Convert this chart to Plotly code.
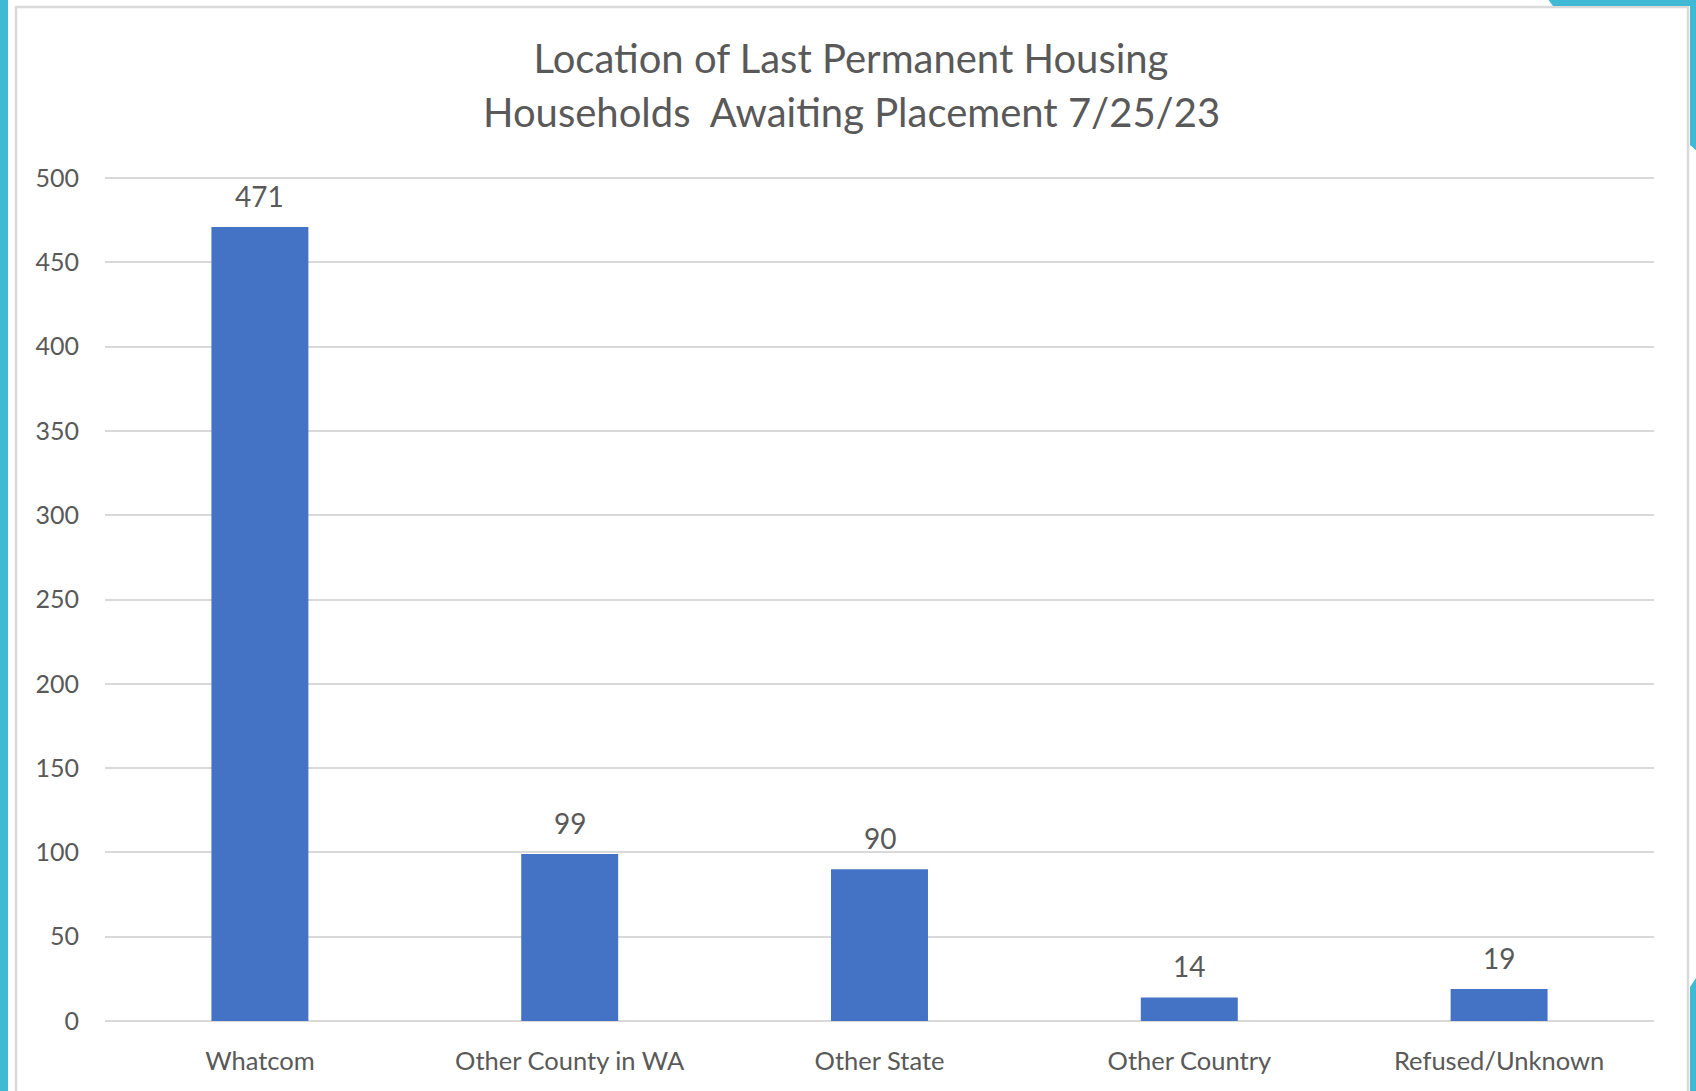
import plotly.graph_objects as go

# data
categories = ["Whatcom", "Other County in WA", "Other State", "Other Country", "Refused/Unknown"]
households = [471, 99, 90, 14, 19]
tick_vals = [0, 50, 100, 150, 200, 250, 300, 350, 400, 450, 500]

title_line1 = "Location of Last Permanent Housing"
title_line2 = "Households  Awaiting Placement 7/25/23"

W, H = 1696, 1091
ML, MR, MT, MB = 105, 42, 177, 70
PW, PH = W - ML - MR, H - MT - MB
Y_TOP = 500.6  # a hair above 500 so the top gridline is drawn

BAR = "#4472C4"
TXT = "#595959"
GRID = "#D9D9D9"
TEAL = "#40B9D4"
FONT = "Lato"


def px(x):
    # page pixel -> paper x
    return (x - ML) / PW


def py(y):
    # page pixel -> paper y
    return (H - MB - y) / PH


def path(points):
    return "M " + " L ".join(f"{px(a)},{py(b)}" for a, b in points) + " Z"


fig = go.Figure()
fig.add_trace(go.Bar(
    x=categories, y=households,
    marker=dict(color=BAR, line=dict(width=0)),
    hoverinfo="x+y",
))

# value labels above bars
for c, v in zip(categories, households):
    fig.add_annotation(
        x=c, y=v, text=str(v), showarrow=False,
        yanchor="bottom", yshift=12,
        font=dict(family=FONT, size=28, color=TXT),
    )

# second title line
fig.add_annotation(
    xref="paper", yref="paper", x=px(851), y=py(112),
    text=title_line2, showarrow=False, xanchor="center", yanchor="middle",
    font=dict(family=FONT, size=40, color=TXT),
)

shapes = [
    # chart area border
    dict(type="rect", xref="paper", yref="paper",
         x0=px(16), x1=px(1688), y0=py(1110), y1=py(7),
         line=dict(color=GRID, width=2.5), layer="below"),
    # teal slide decorations
    dict(type="rect", xref="paper", yref="paper",
         x0=px(-2), x1=px(8), y0=py(1095), y1=py(-2),
         fillcolor=TEAL, line=dict(width=0)),
    dict(type="path", xref="paper", yref="paper",
         path=path([(1547, -2), (1698, -2), (1698, 152), (1690, 145), (1690, 6), (1553, 6)]),
         fillcolor=TEAL, line=dict(width=0)),
    dict(type="path", xref="paper", yref="paper",
         path=path([(1690, 987), (1698, 975), (1698, 1095), (1690, 1095)]),
         fillcolor=TEAL, line=dict(width=0)),
]

fig.update_layout(
    width=W, height=H,
    margin=dict(l=ML, r=MR, t=MT, b=MB, pad=0),
    paper_bgcolor="white", plot_bgcolor="white",
    showlegend=False,
    bargap=0.687,
    font=dict(family=FONT, color=TXT),
    title=dict(
        text=title_line1, x=px(851), xref="paper", xanchor="center",
        y=1 - 59 / H, yref="container", yanchor="middle",
        font=dict(family=FONT, size=40, color=TXT),
    ),
    shapes=shapes,
)

fig.update_xaxes(
    showline=False, showgrid=False, ticks="",
    tickfont=dict(family=FONT, size=25.5, color=TXT),
    ticklabelstandoff=22,
)
fig.update_yaxes(
    range=[0, Y_TOP], tickvals=tick_vals,
    showgrid=True, gridcolor=GRID, gridwidth=2,
    zeroline=True, zerolinecolor=GRID, zerolinewidth=2,
    showline=False, ticks="",
    tickfont=dict(family=FONT, size=25, color=TXT),
    ticklabelstandoff=25,
)

# drop the default page margin so the figure sits at the window corner
fig.write_html(
    "out.html",
    config={"displayModeBar": False},
    post_script="document.body.style.margin='0';",
)
